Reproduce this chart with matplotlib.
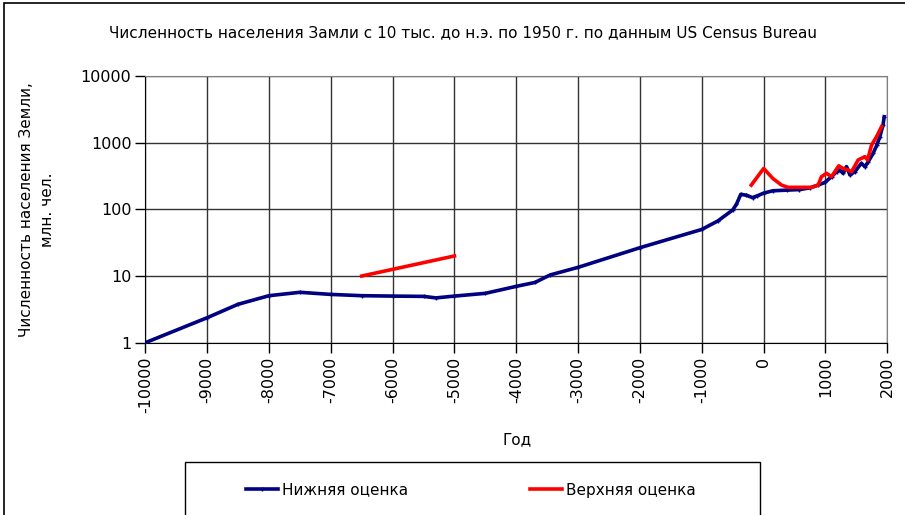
import matplotlib
matplotlib.use("Agg")

import numpy as np
import matplotlib.pyplot as plt
from matplotlib.patches import Rectangle

# ── Data (year, million people) ──────────────────────────────────────────────
years_low = [-10000, -9000, -8500, -8000, -7500, -7000, -6500, -6000, -5500,
             -5300, -5000, -4500, -4000, -3700, -3450, -3000, -2000, -1000,
             -740, -500, -440, -370, -280, -180, -100, 0, 150, 370, 580, 750,
             880, 990, 1100, 1180, 1230, 1285, 1340, 1395, 1475, 1580, 1640,
             1690, 1770, 1830, 1880, 1930, 1950]
pop_low = [1.0, 2.37, 3.77, 5.07, 5.7, 5.3, 5.07, 5.0, 4.95,
           4.7, 5.0, 5.5, 7.0, 8.0, 10.4, 13.5, 26.6, 50,
           67, 98, 119, 168, 163, 150, 160, 175, 190, 194, 198, 210,
           231, 253, 310, 367, 390, 347, 437, 330, 367, 490, 437,
           515, 690, 917, 1230, 1830, 2450]

# upper estimate: two separate pieces, gap marked with nan
years_up = [-6500, -5000, np.nan,
            -200, 0, 150, 290, 395, 585, 775, 880, 935, 1016, 1097, 1215,
            1285, 1366, 1421, 1528, 1637, 1680, 1745, 1826, 1880, 1907]
pop_up = [10, 20, np.nan,
          231, 410, 290, 231, 214, 214, 214, 231, 309, 347, 309, 450,
          410, 390, 365, 550, 617, 550, 917, 1230, 1550, 1740]

x_ticks = list(range(-10000, 2001, 1000))
y_ticks = [1, 10, 100, 1000, 10000]

TITLE = "Численность населения Замли с 10 тыс. до н.э. по 1950 г. по данным US Census Bureau"

W, H = 905, 515
fig = plt.figure(figsize=(W / 100, H / 100), dpi=100)
ax = fig.add_axes([145.3 / W, 1 - 342.7 / H, 742 / W, 266.7 / H])

ax.plot(years_low, pop_low, color="#000080", lw=2.6, marker="+", ms=3.5,
        mew=1.0, label="Нижняя оценка", zorder=3)
ax.plot(years_up, pop_up, color="#ff0000", lw=2.6, label="Верхняя оценка",
        zorder=4)

ax.set_yscale("log")
ax.set_xlim(-10000, 2000)
ax.set_ylim(1, 10000)
ax.set_xticks(x_ticks)
ax.set_xticklabels([str(t) for t in x_ticks], rotation=90)
ax.set_yticks(y_ticks)
ax.set_yticklabels([str(t) for t in y_ticks])
ax.yaxis.set_minor_locator(matplotlib.ticker.NullLocator())
ax.tick_params(axis="both", labelsize=11.5, length=7, width=1, direction="out",
               color="black", pad=3)
ax.grid(True, color="#333333", lw=1)
for side in ("left", "bottom"):
    ax.spines[side].set_color("black")
for side in ("top", "right"):
    ax.spines[side].set_color("#808080")

fig.text(463 / W, 1 - 33 / H, TITLE, ha="center", va="center", fontsize=11)
fig.text(37 / W, 1 - 210 / H, "Численность населения Земли,\nмлн. чел.",
         ha="center", va="center", rotation=90, fontsize=11,
         multialignment="center", linespacing=1.5)
fig.text(517 / W, 1 - 440 / H, "Год", ha="center", va="center", fontsize=11)

# outer chart border and legend box (both run past the bottom edge)
fig.add_artist(Rectangle((4 / W, -0.2), 1.2, 1.2 - 3 / H,
                         transform=fig.transFigure, fill=False,
                         edgecolor="black", lw=1.2, clip_on=False))
fig.add_artist(Rectangle((185 / W, -0.2), (760 - 185) / W, 0.2 + 1 - 462 / H,
                         transform=fig.transFigure, fill=False,
                         edgecolor="black", lw=1, clip_on=False))
leg = fig.legend(loc="center left", bbox_to_anchor=(240 / W, 1 - 490 / H),
                 ncol=2, frameon=False, handlelength=2.1, handletextpad=0.25,
                 columnspacing=8.0, borderaxespad=0, prop={"size": 11})

fig.savefig("out.png", dpi=100)
